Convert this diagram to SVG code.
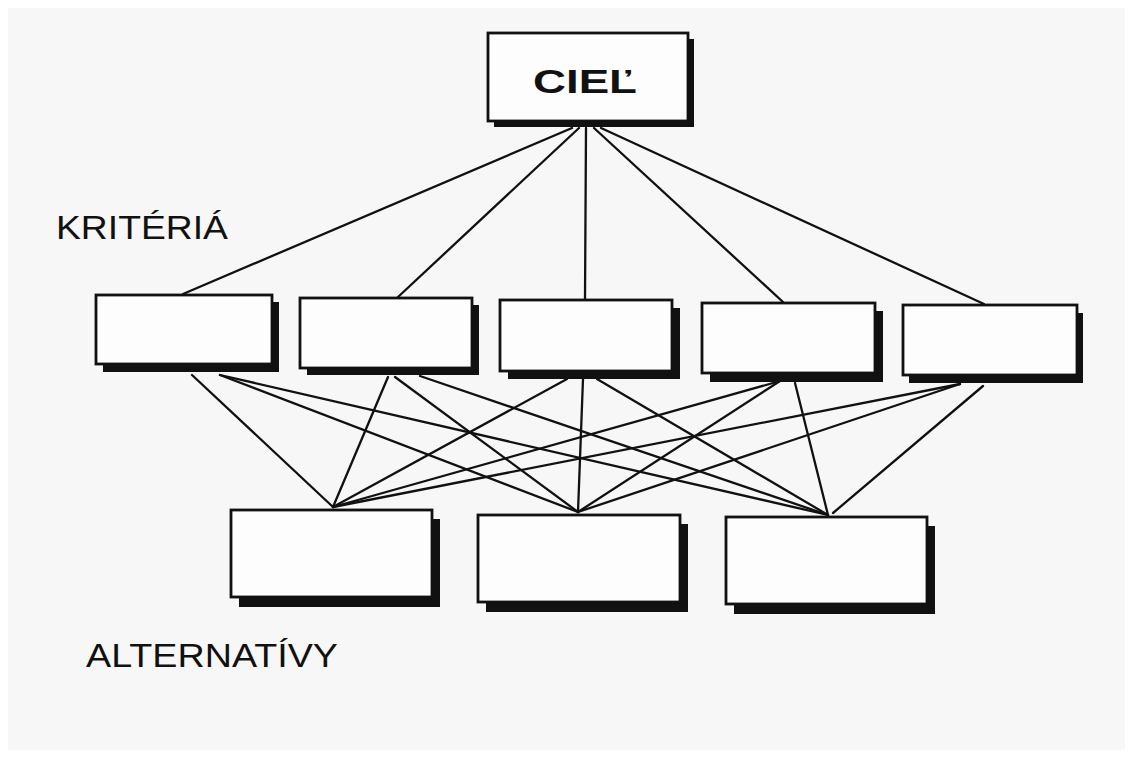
<svg xmlns="http://www.w3.org/2000/svg" width="1133" height="758" viewBox="0 0 1133 758">
<defs>
<style>
.shadow{fill:#111}
.box{fill:#fdfdfd;stroke:#111;stroke-width:2.8}
.conn line{stroke:#111;stroke-width:2.3;stroke-linecap:round}
.lbl{font-family:"Liberation Sans",Arial,sans-serif;fill:#111}
</style>
</defs>
<rect x="0" y="0" width="1133" height="758" fill="#ffffff"/>
<rect x="8" y="8" width="1117" height="742" fill="#f7f7f7"/>

<g id="connectors" class="conn">
<line x1="572" y1="128" x2="183" y2="294"/>
<line x1="579" y1="128" x2="398" y2="297"/>
<line x1="586" y1="128" x2="585" y2="300"/>
<line x1="594" y1="128" x2="783" y2="302"/>
<line x1="601" y1="128" x2="984" y2="304"/>

<line x1="192" y1="375" x2="333" y2="507"/>
<line x1="220" y1="375" x2="578" y2="512"/>
<line x1="220" y1="375" x2="828" y2="515"/>
<line x1="388" y1="377" x2="333" y2="507"/>
<line x1="395" y1="377" x2="578" y2="512"/>
<line x1="420" y1="376" x2="828" y2="515"/>
<line x1="567" y1="379" x2="333" y2="507"/>
<line x1="583" y1="379" x2="578" y2="512"/>
<line x1="597" y1="379" x2="828" y2="515"/>
<line x1="780" y1="381" x2="333" y2="507"/>
<line x1="780" y1="381" x2="578" y2="512"/>
<line x1="795" y1="383" x2="828" y2="515"/>
<line x1="960" y1="384" x2="333" y2="507"/>
<line x1="960" y1="384" x2="578" y2="512"/>
<line x1="983" y1="386" x2="833" y2="513"/>
</g>

<g id="goal">
<rect class="shadow" x="494" y="39" width="200" height="88"/>
<rect class="box" x="488" y="33" width="200" height="88"/>
<text class="lbl" x="533" y="93" font-size="34" font-weight="bold" textLength="104" lengthAdjust="spacingAndGlyphs">CIEĽ</text>
</g>

<g id="crit1"><rect class="shadow" x="103" y="302" width="176" height="70"/><rect class="box" x="96" y="295" width="176" height="69"/></g>
<g id="crit2"><rect class="shadow" x="307" y="305" width="172" height="70"/><rect class="box" x="300" y="298" width="172" height="70"/></g>
<g id="crit3"><rect class="shadow" x="508" y="308" width="172" height="71"/><rect class="box" x="500" y="300" width="172" height="71"/></g>
<g id="crit4"><rect class="shadow" x="710" y="311" width="173" height="71"/><rect class="box" x="702" y="303" width="173" height="70"/></g>
<g id="crit5"><rect class="shadow" x="909" y="313" width="174" height="70"/><rect class="box" x="903" y="305" width="174" height="70"/></g>

<g id="alt1"><rect class="shadow" x="239" y="519" width="201" height="88"/><rect class="box" x="231" y="510" width="201" height="87"/></g>
<g id="alt2"><rect class="shadow" x="486" y="524" width="202" height="88"/><rect class="box" x="478" y="515" width="202" height="87"/></g>
<g id="alt3"><rect class="shadow" x="734" y="526" width="201" height="88"/><rect class="box" x="726" y="517" width="201" height="87"/></g>

<g id="label-kriteria">
<text class="lbl" x="56" y="239" font-size="33" textLength="172" lengthAdjust="spacingAndGlyphs">KRITÉRIÁ</text>
</g>
<g id="label-alternativy">
<text class="lbl" x="86" y="667" font-size="34" textLength="252" lengthAdjust="spacingAndGlyphs">ALTERNATÍVY</text>
</g>
</svg>
